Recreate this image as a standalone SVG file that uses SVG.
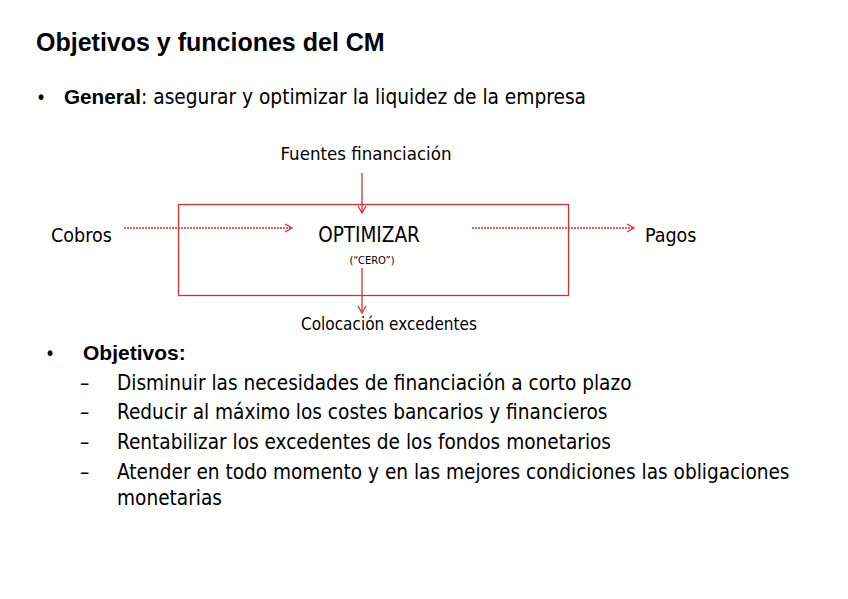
<svg xmlns="http://www.w3.org/2000/svg" width="848" height="599" viewBox="0 0 848 599">
<style>
text{font-family:"DejaVu Sans Condensed","Liberation Sans",sans-serif;fill:#000}
.b{font-family:"Liberation Sans",Arial,sans-serif;font-weight:bold}
.r{stroke:#d83030;stroke-width:1.3;fill:none}
.d{stroke-dasharray:2 1}
</style>
<defs><marker id="a" markerWidth="10" markerHeight="10" refX="8" refY="5" orient="auto" markerUnits="userSpaceOnUse"><path d="M1 1L8 5L1 9" fill="none" stroke="#d83030" stroke-width="1.3"/></marker></defs>
<rect width="848" height="599" fill="#fff"/>
<text x="36" y="51" class="b" font-size="25">Objetivos y funciones del CM</text>
<text x="36" y="104" font-size="19" font-family="Liberation Sans">•</text>
<text x="64" y="104" font-size="20.7"><tspan class="b">General</tspan>: asegurar y optimizar la liquidez de la empresa</text>
<g id="box"><rect class="r" x="178.5" y="204.5" width="390" height="91"/><text x="369" y="242" font-size="20.5" text-anchor="middle">OPTIMIZAR</text><text x="372" y="264" font-size="11" text-anchor="middle">(“CERO”)</text></g>
<g id="fuentes"><text x="366" y="160" font-size="18.5" text-anchor="middle">Fuentes financiación</text></g>
<g id="cobros"><text x="51" y="242" font-size="19.5">Cobros</text></g>
<g id="pagos"><text x="645" y="242" font-size="19.5">Pagos</text></g>
<g id="coloc"><text x="389" y="330" font-size="17" text-anchor="middle">Colocación excedentes</text></g>
<g id="connectors">
<line class="r" x1="362" y1="173" x2="362" y2="213" marker-end="url(#a)"/>
<line class="r d" x1="124" y1="228" x2="292" y2="228" marker-end="url(#a)"/>
<line class="r d" x1="472" y1="228" x2="634" y2="228" marker-end="url(#a)"/>
<line class="r" x1="362" y1="268" x2="362" y2="313" marker-end="url(#a)"/>
</g>
<text x="45" y="360" font-size="19" font-family="Liberation Sans">•</text>
<text x="83" y="360" class="b" font-size="21">Objetivos:</text>
<g font-size="20.6">
<text x="80" y="390">–</text><text x="117" y="390">Disminuir las necesidades de financiación a corto plazo</text>
<text x="80" y="419">–</text><text x="117" y="419">Reducir al máximo los costes bancarios y financieros</text>
<text x="80" y="449">–</text><text x="117" y="449">Rentabilizar los excedentes de los fondos monetarios</text>
<text x="80" y="479">–</text><text x="117" y="479">Atender en todo momento y en las mejores condiciones las obligaciones</text>
<text x="117" y="505">monetarias</text>
</g>
</svg>
